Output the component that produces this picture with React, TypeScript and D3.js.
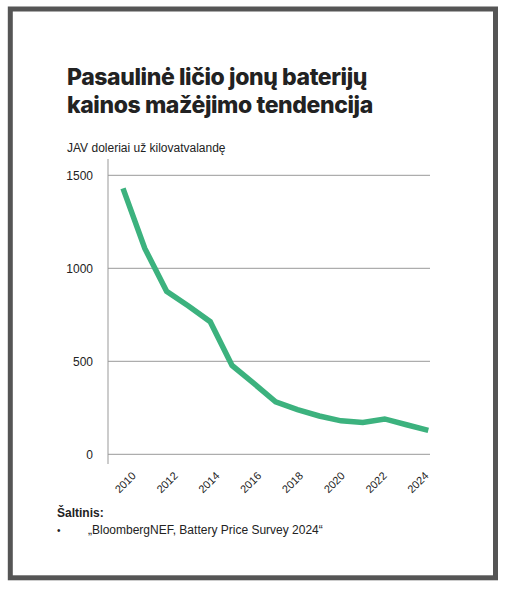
import { useEffect, useRef } from 'react'
import * as d3 from 'd3'

const years = [2010, 2011, 2012, 2013, 2014, 2015, 2016, 2017, 2018, 2019, 2020, 2021, 2022, 2023, 2024]
const prices = [1430, 1107, 876, 797, 713, 478, 381, 282, 240, 206, 180, 171, 190, 159, 129]
const yTicks = [0, 500, 1000, 1500]
const xTickLabels = [2010, 2012, 2014, 2016, 2018, 2020, 2022, 2024]
const titleLines = ['Pasaulinė ličio jonų baterijų', 'kainos mažėjimo tendencija']
const subtitle = 'JAV doleriai už kilovatvalandę'
const sourceHead = 'Šaltinis:'
const sourceItem = '„BloombergNEF, Battery Price Survey 2024“'

const W = 505
const H = 591
const FONT = "'Liberation Sans', Arial, sans-serif"

export default function App() {
  const ref = useRef<SVGSVGElement | null>(null)

  useEffect(() => {
    if (!ref.current) return
    const svg = d3.select(ref.current)
    svg.selectAll('*').remove()

    // frame
    svg
      .append('rect')
      .attr('x', 10.3)
      .attr('y', 9)
      .attr('width', 485.2)
      .attr('height', 568.8)
      .attr('fill', '#fff')
      .attr('stroke', '#555')
      .attr('stroke-width', 5)

    // title
    svg
      .append('g')
      .selectAll('text')
      .data(titleLines)
      .enter()
      .append('text')
      .attr('x', 67)
      .attr('y', (_, i) => 85 + i * 28)
      .attr('fill', '#222')
      .attr('font-family', "Inter, 'Noto Sans', sans-serif")
      .attr('font-weight', 800)
      .attr('font-size', 23)
      .attr('letter-spacing', -0.4)
      .text((d) => d)

    svg
      .append('text')
      .attr('x', 67)
      .attr('y', 152)
      .attr('fill', '#222')
      .attr('font-family', FONT)
      .attr('font-size', 12)
      .text(subtitle)

    const x = d3.scaleLinear().domain([2010, 2024]).range([123, 428.3])
    const xLabel = d3.scaleLinear().domain([2010, 2024]).range([136.7, 429.3])
    const y = d3.scaleLinear().domain([0, 1500]).range([454.3, 175.3])

    // grid
    svg
      .append('g')
      .selectAll('line')
      .data(yTicks)
      .enter()
      .append('line')
      .attr('x1', 108)
      .attr('x2', 430)
      .attr('y1', (d) => y(d))
      .attr('y2', (d) => y(d))
      .attr('stroke', '#999')
      .attr('stroke-width', 1)

    svg
      .append('line')
      .attr('x1', 108)
      .attr('x2', 108)
      .attr('y1', 159)
      .attr('y2', 464)
      .attr('stroke', '#999')
      .attr('stroke-width', 1)

    svg
      .append('g')
      .selectAll('text')
      .data(yTicks)
      .enter()
      .append('text')
      .attr('x', 93)
      .attr('y', (d) => y(d))
      .attr('dy', '0.36em')
      .attr('text-anchor', 'end')
      .attr('fill', '#222')
      .attr('font-family', FONT)
      .attr('font-size', 12)
      .text((d) => d)

    svg
      .append('g')
      .selectAll('text')
      .data(xTickLabels)
      .enter()
      .append('text')
      .attr('transform', (d) => `translate(${xLabel(d)},476.5) rotate(-45)`)
      .attr('text-anchor', 'end')
      .attr('fill', '#222')
      .attr('font-family', FONT)
      .attr('font-size', 11)
      .text((d) => d)

    const line = d3
      .line<number>()
      .x((_, i) => x(years[i]))
      .y((d) => y(d))

    svg
      .append('path')
      .datum(prices)
      .attr('d', line)
      .attr('fill', 'none')
      .attr('stroke', '#3cb27e')
      .attr('stroke-width', 5.5)
      .attr('stroke-linejoin', 'miter')

    // source
    svg
      .append('text')
      .attr('x', 57)
      .attr('y', 517)
      .attr('fill', '#222')
      .attr('font-family', FONT)
      .attr('font-weight', 700)
      .attr('font-size', 12)
      .text(sourceHead)

    svg
      .append('text')
      .attr('x', 57)
      .attr('y', 534)
      .attr('fill', '#222')
      .attr('font-family', FONT)
      .attr('font-size', 10)
      .text('•')

    svg
      .append('text')
      .attr('x', 88)
      .attr('y', 534)
      .attr('fill', '#222')
      .attr('font-family', FONT)
      .attr('font-size', 12)
      .text(sourceItem)
  }, [])

  return (
    <svg
      ref={ref}
      width={W}
      height={H}
      viewBox={`0 0 ${W} ${H}`}
      style={{ position: 'absolute', left: 0, top: 0, background: '#fff' }}
      role="img"
      aria-label="Battery price chart"
    />
  )
}
